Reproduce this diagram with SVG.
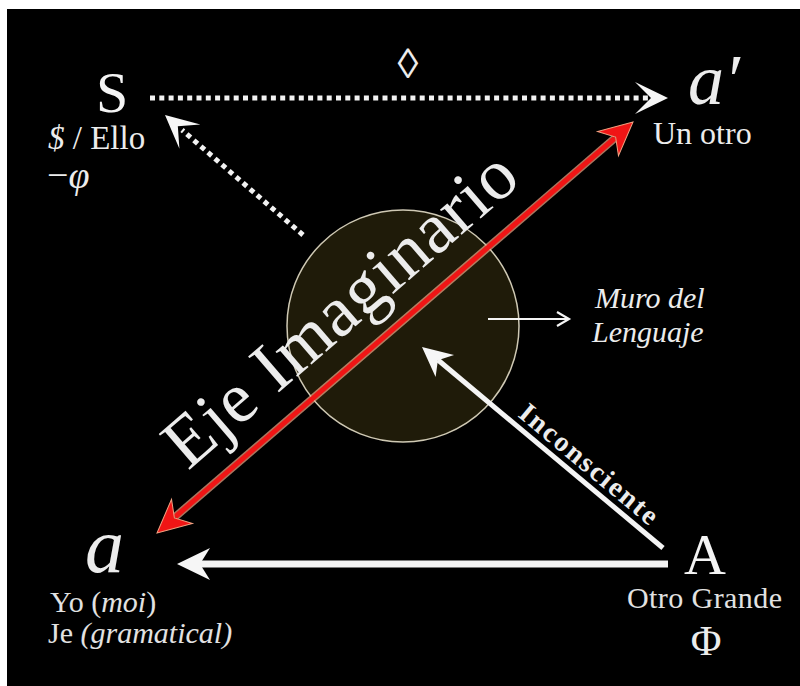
<svg xmlns="http://www.w3.org/2000/svg" width="800" height="686" viewBox="0 0 800 686">
<style>
.t{font-family:"Liberation Serif","Times New Roman",serif;fill:#ececec}
.big{font-size:58px;fill:#f4f4f4}
.lbl{font-size:30px;fill:#e2e2e2}
.it{font-style:italic}
.dot{fill:none;stroke:#f2f2f2;stroke-width:5}
.wl{fill:none;stroke:#f4f4f4}
.wh{fill:#f6f6f6}
.rh{fill:#f01515;stroke:#f2a080;stroke-width:1}
</style>
<defs>
<path id="head" d="M0,0 L-33,-16 L-23,0 L-33,16 Z"/>
<path id="chev" d="M0,0 L-33,-16 L-17,0 L-33,16 Z"/>
</defs>
<rect x="0" y="0" width="800" height="686" fill="#ffffff"/>
<rect x="7" y="9" width="793" height="677" fill="#000000"/>

<g id="wall">
<circle cx="403" cy="326" r="116" fill="#1f1b09" stroke="#cfc9b4" stroke-width="1.5"/>
</g>

<g id="connectors">
<line class="dot" x1="150" y1="98" x2="648" y2="98" stroke-dasharray="5 4.3"/>
<use href="#chev" class="wh" transform="translate(668,98)"/>
<line class="dot" x1="303" y1="235" x2="182" y2="130" stroke-dasharray="5 4.3"/>
<use href="#chev" class="wh" transform="translate(165,115) rotate(221)"/>
<line class="wl" x1="668" y1="564" x2="198" y2="564" stroke-width="7"/>
<use href="#head" class="wh" transform="translate(177,564) rotate(180)"/>
<line class="wl" x1="663" y1="548" x2="438" y2="360" stroke-width="5"/>
<use href="#head" class="wh" transform="translate(422,347) rotate(219.8) scale(0.9)"/>
<line class="wl" x1="488" y1="319" x2="568" y2="319" stroke-width="2.2"/>
<polyline class="wl" points="557,312 569,319 557,326" stroke-width="2.2"/>
<line x1="175" y1="517" x2="615" y2="138" stroke="#f2a888" stroke-width="8" stroke-opacity="0.7"/>
<line x1="175" y1="517" x2="615" y2="138" stroke="#f01515" stroke-width="5"/>
<use href="#head" class="rh" transform="translate(633,122) rotate(-40.8)"/>
<use href="#head" class="rh" transform="translate(157,533) rotate(139.2)"/>
</g>

<g id="node-S">
<text class="t big" x="96" y="112">S</text>
<text class="t" x="48" y="149" font-size="33" fill="#e2e2e2"><tspan class="it">$</tspan> / Ello</text>
<text class="t" x="47" y="188" font-size="38">−<tspan class="it">φ</tspan></text>
</g>

<g id="node-aprime">
<text class="t it" x="688" y="104" font-size="72" fill="#f4f4f4">a′</text>
<text class="t" x="653" y="144" font-size="32" fill="#e2e2e2">Un otro</text>
</g>

<g id="node-a">
<text class="t it" x="85" y="572" font-size="78" fill="#f4f4f4">a</text>
<text class="t lbl" x="50" y="612">Yo (<tspan class="it">moi</tspan>)</text>
<text class="t lbl" x="48" y="643">Je <tspan class="it">(gramatical)</tspan></text>
</g>

<g id="node-A">
<text class="t big" x="684" y="574" font-size="60">A</text>
<text class="t lbl" x="627" y="608" textLength="155">Otro Grande</text>
<text class="t" x="706" y="655" font-size="42" text-anchor="middle">Φ</text>
</g>

<g id="labels">
<text class="t" x="408" y="78" font-size="42" text-anchor="middle">◊</text>
<text class="t it" x="595" y="308" font-size="30" fill="#d6d6d6">Muro del</text>
<text class="t it" x="592" y="342" font-size="30" fill="#d6d6d6">Lenguaje</text>
<text class="t" font-size="72" fill="#fafafa" transform="translate(188,471) rotate(-40.8)" textLength="442">Eje Imaginario</text>
<text class="t" font-size="28" font-weight="bold" fill="#f4f4f4" transform="translate(517,416) rotate(39.8)" textLength="172">Inconsciente</text>
</g>
</svg>
